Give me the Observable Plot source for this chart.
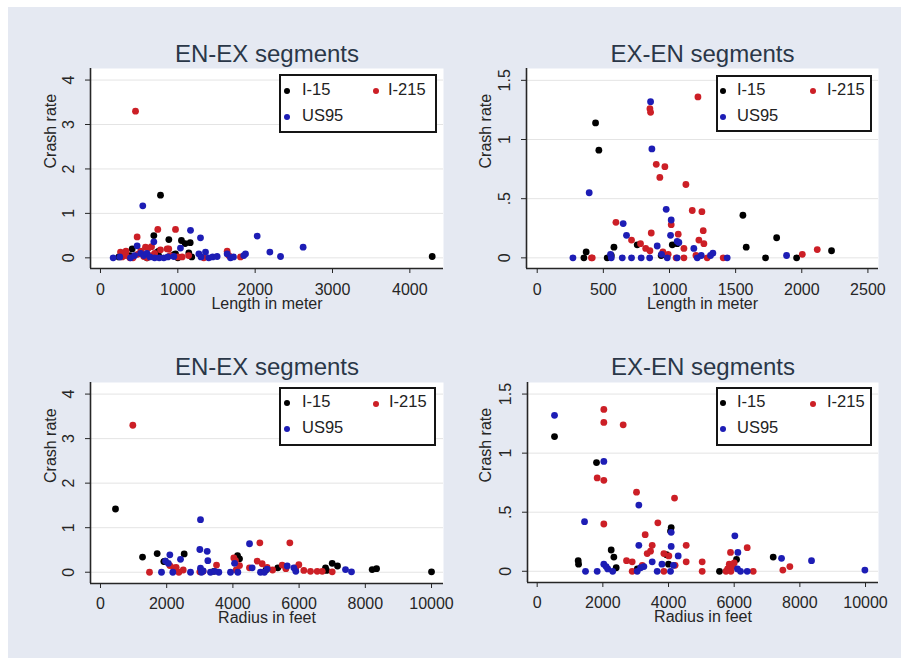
<!DOCTYPE html>
<html><head><meta charset="utf-8">
<script src="https://cdn.jsdelivr.net/npm/d3@7"></script>
<script src="https://cdn.jsdelivr.net/npm/@observablehq/plot@0.6"></script>
<style>
body{margin:0;background:#fff;}
#page{position:relative;width:901px;height:658px;overflow:hidden;font-family:"Liberation Sans",Arial,sans-serif;}
#bg{position:absolute;left:8px;top:7px;width:893px;height:651px;background:#e5e9f2;}
.panel{position:absolute;}
.legend{position:absolute;background:#fff;border:2px solid #151515;box-sizing:border-box;}
.legend .m{position:absolute;width:6px;height:6px;border-radius:50%;margin:-3px 0 0 -3px;}
.legend .t{position:absolute;font-size:16.5px;color:#222;line-height:1;transform:translateY(-50%);white-space:nowrap;}
</style></head><body><div id="page"><div id="bg"></div></div>
<script>
// ---------- data ----------
const series = ["I-15", "I-215", "US95"];
const seriesColors = ["#000000", "#cc1f26", "#1d1db5"];

const lengthTicks = [0, 1000, 2000, 3000, 4000];
const lengthTicks2 = [0, 500, 1000, 1500, 2000, 2500];
const radiusTicks = [0, 2000, 4000, 6000, 8000, 10000];
const rateTicks4 = [0, 1, 2, 3, 4];
const rateTicks15 = [0, 0.5, 1, 1.5];

// EN-EX, length in meter vs crash rate
const enexLenI15 = [[776,1.41],[690,0.50],[884,0.41],[1047,0.39],[1095,0.32],[1160,0.34],[410,0.20],[4289,0.03],
  [237,0.02],[380,0.05],[600,0.0],[730,0.12],[754,0.15],[760,0.02],[950,0.07],[970,0.09],[1000,0.0],[1142,0.11],[1180,0.02]];
const enexLenI215 = [[453,3.30],[741,0.64],[970,0.64],[474,0.47],[582,0.24],[620,0.22],[660,0.25],[883,0.20],
  [259,0.13],[280,0.02],[300,0.10],[330,0.05],[330,0.15],[380,0.0],[420,0.0],[480,0.08],[520,0.15],[560,0.03],[603,0.0],
  [650,0.05],[700,0.10],[776,0.18],[862,0.20],[900,0.05],[1000,0.02],[1056,0.02],[1140,0.05],[1336,0.0],[1638,0.15],
  [1660,0.05],[1810,0.02]];
const enexLenUS95 = [[547,1.17],[1164,0.62],[1293,0.45],[2026,0.49],[690,0.36],[474,0.27],[1034,0.22],[2190,0.13],
  [2620,0.24],[2328,0.03],[164,0],[250,0.02],[388,0],[440,0.05],[520,0.10],[560,0.05],[600,0.10],[640,0.02],[700,0],
  [760,0],[819,0],[870,0.02],[948,0.03],[1272,0.09],[1300,0.02],[1358,0.13],[1400,0],[1450,0.02],[1508,0.03],
  [1638,0.09],[1681,0],[1720,0.02],[1853,0.05],[1875,0.09]];

// EX-EN, length in meter vs crash rate
const exenLenI15 = [[441,1.14],[466,0.91],[1555,0.36],[1810,0.17],[1580,0.09],[2225,0.06],[1726,0],[1961,0],
  [580,0.09],[370,0.05],[353,0],[529,0],[560,0.02],[756,0.11],[937,0.02],[1021,0.11],[1058,0.12]];
const exenLenI215 = [[1215,1.36],[852,1.26],[857,1.23],[900,0.79],[965,0.77],[927,0.68],[1124,0.62],[1172,0.40],
  [1245,0.39],[595,0.30],[862,0.21],[1013,0.28],[1255,0.23],[1066,0.20],[713,0.15],[781,0.12],[820,0.08],[852,0.06],
  [1222,0.15],[1260,0.12],[1109,0.08],[2117,0.07],[2004,0.03],[416,0],[410,0],[1406,0],[1285,0],[1109,0],[990,0.03],
  [1050,0.0],[1200,0.02],[950,0.05]];
const exenLenUS95 = [[857,1.32],[867,0.92],[393,0.55],[975,0.41],[1013,0.32],[650,0.29],[675,0.19],[1008,0.19],
  [1058,0.14],[1071,0.13],[907,0.10],[1184,0.08],[1328,0.04],[1885,0.02],[270,0],[554,0.03],[560,0],[643,0],[713,0],
  [786,0],[850,0],[940,0.03],[983,0],[1058,0],[1210,0],[1240,0.02],[1310,0.02],[1436,0]];

// EN-EX, radius in feet vs crash rate
const enexRadI15 = [[453,1.42],[1270,0.34],[1712,0.42],[2528,0.41],[1913,0.24],[1950,0.25],[4140,0.37],[4200,0.30],
  [10000,0.01],[8207,0.06],[8340,0.08],[7000,0.20],[7160,0.14],[6798,0.10],[6828,0.04],[5357,0.10],[3424,0.02],[5000,0.05]];
const enexRadI215 = [[977,3.30],[4814,0.66],[5720,0.66],[4028,0.32],[4078,0.26],[4733,0.25],[4884,0.19],[5488,0.16],
  [5992,0.17],[3505,0.16],[2095,0.15],[2286,0.11],[1480,0],[2367,0],[2215,0.10],[3100,0.02],[4100,0.05],[4200,0.15],
  [5035,0.11],[5200,0.05],[5600,0.08],[6143,0.04],[6344,0.02],[6546,0.02],[6700,0.02],[7000,0.01],[5900,0.10],
  [2500,0.05],[3000,0.01],[4500,0.10]];
const enexRadUS95 = [[3021,1.18],[4502,0.64],[3001,0.51],[3223,0.47],[2095,0.39],[3243,0.26],[2417,0.29],[1964,0.25],
  [4582,0.10],[5640,0.14],[5841,0.10],[7402,0.06],[7583,0.01],[1843,0],[2185,0],[2719,0],[3021,0.09],[3050,0],
  [3323,0],[3575,0],[3927,0],[4149,0],[4834,0],[5035,0.07],[4950,0],[5900,0.02],[4050,0.20],[2050,0.20],
  [3100,0.03],[3450,0.02]];

// EX-EN, radius in feet vs crash rate
const exenRadI15 = [[528,1.14],[1807,0.92],[7188,0.12],[6071,0.10],[4081,0.37],[4061,0.34],[2254,0.18],[2335,0.12],
  [2406,0.03],[1249,0.09],[1260,0.06],[5553,0],[3939,0.14],[4000,0.06],[3050,0.02]];
const exenRadI215 = [[2030,1.37],[2030,1.26],[2619,1.24],[1827,0.79],[2030,0.77],[3025,0.67],[4183,0.62],[2030,0.40],
  [3675,0.41],[3289,0.31],[3503,0.22],[4538,0.22],[6396,0.20],[5888,0.16],[2721,0.09],[2893,0.08],[3350,0.15],
  [3452,0.17],[3858,0.15],[4010,0.13],[4538,0.08],[5025,0.08],[2893,0],[3858,0],[5025,0],[5800,0.02],[5850,0.06],
  [5900,0.0],[5950,0.04],[6000,0.07],[5750,0.0],[6579,0],[7482,0.01],[7695,0.04],[3200,0.05],[4200,0.05]];
const exenRadUS95 = [[528,1.32],[2030,0.93],[3096,0.56],[1442,0.42],[6020,0.30],[4081,0.33],[3096,0.22],[4081,0.21],
  [6112,0.16],[7442,0.11],[8355,0.09],[9980,0.01],[4294,0.13],[3503,0.08],[2030,0.06],[1472,0],[1827,0],[2150,0.02],
  [2100,0.04],[2300,0],[3046,0],[3150,0.03],[3249,0.04],[3655,0],[3800,0.06],[4061,0],[4150,0.05],[6193,0],
  [6396,0],[6100,0.02]];

// ---------- drawing ----------
const fmtRate = d => d === 0 ? "0" : String(d).replace(/^0\./, ".");
const page = document.getElementById("page");

function makeTable(groups) {
  const rows = [];
  groups.forEach((g, i) => g.forEach(([x, y]) => rows.push({x, y, s: series[i]})));
  return rows;
}

function panel(cfg) {
  const data = makeTable(cfg.groups);
  const svg = Plot.plot({
    width: cfg.width, height: cfg.height,
    marginTop: cfg.mt, marginRight: cfg.mr, marginBottom: cfg.mb, marginLeft: cfg.ml,
    style: {fontFamily: "'Liberation Sans', Arial, sans-serif", background: "none", overflow: "visible", color: "#262626"},
    x: {domain: cfg.xDomain},
    y: {domain: cfg.yDomain},
    color: {domain: series, range: seriesColors},
    marks: [
      Plot.frame({fill: "white", stroke: "none"}),
      Plot.gridY(cfg.yTicks, {stroke: "#e4e4e4", strokeOpacity: 1, strokeWidth: 1}),
      Plot.ruleX([cfg.xDomain[0]], {stroke: "#262626", strokeWidth: 1.6}),
      Plot.ruleY([cfg.yDomain[0]], {stroke: "#262626", strokeWidth: 1.6}),
      Plot.axisY(cfg.yTicks, {tickSize: 5, tickPadding: 17, tickRotate: -90, textAnchor: "middle", lineAnchor: "middle",
        fontSize: 16, tickFormat: cfg.yFormat, label: null}),
      Plot.axisX(cfg.xTicks, {tickSize: 5, tickPadding: cfg.xPad, fontSize: 16, tickFormat: d => String(d), label: null}),
      Plot.dot(data, {x: "x", y: "y", fill: "s", r: 3.4, stroke: "none"}),
      Plot.text([cfg.title], {text: d => d, frameAnchor: "top", dy: cfg.titleDy, lineAnchor: "bottom", fontSize: 24, fill: "#2a3748"}),
      Plot.text([cfg.xLabel], {text: d => d, frameAnchor: "bottom", dy: cfg.xLabelDy, lineAnchor: "bottom", fontSize: 16, fill: "#262626"}),
      Plot.text(["Crash rate"], {text: d => d, frameAnchor: "left", dx: cfg.yLabelDx, rotate: -90, lineAnchor: "middle", fontSize: 16, fill: "#262626"})
    ]
  });
  const wrap = document.createElement("div");
  wrap.className = "panel";
  wrap.style.left = cfg.left + "px";
  wrap.style.top = cfg.top + "px";
  wrap.appendChild(svg);
  page.appendChild(wrap);

  const L = cfg.legend;
  const box = document.createElement("div");
  box.className = "legend";
  Object.assign(box.style, {left: L.x + "px", top: L.y + "px", width: L.w + "px", height: L.h + "px"});
  series.forEach((name, i) => {
    const m = document.createElement("div");
    m.className = "m";
    m.style.background = seriesColors[i];
    m.style.left = (L.marks[i][0] - 2) + "px";
    m.style.top = (L.marks[i][1] - 2) + "px";
    box.appendChild(m);
    const t = document.createElement("div");
    t.className = "t";
    t.textContent = name;
    t.style.left = (L.texts[i][0] - 2) + "px";
    t.style.top = (L.texts[i][1] - 2) + "px";
    box.appendChild(t);
  });
  page.appendChild(box);
}

panel({left: 0, top: 0, width: 450, height: 330, mt: 68, mr: 7, mb: 62, ml: 90,
  xDomain: [-129, 4435], yDomain: [-0.24, 4.26], xTicks: lengthTicks, yTicks: rateTicks4, yFormat: fmtRate,
  title: "EN-EX segments", titleDy: -6.5, xLabel: "Length in meter", xLabelDy: 40.5, xPad: 10, yLabelDx: -40,
  groups: [enexLenI15, enexLenI215, enexLenUS95],
  legend: {x: 279, y: 74, w: 158, h: 59, marks: [[8,17],[97,17],[8,43]], texts: [[23,14.5],[109,14.5],[23,41]]}});

panel({left: 450, top: 0, width: 451, height: 330, mt: 68, mr: 23, mb: 62, ml: 76,
  xDomain: [-81, 2580], yDomain: [-0.09, 1.60], xTicks: lengthTicks2, yTicks: rateTicks15, yFormat: fmtRate,
  title: "EX-EN segments", titleDy: -6.5, xLabel: "Length in meter", xLabelDy: 40.5, xPad: 10, yLabelDx: -41,
  groups: [exenLenI15, exenLenI215, exenLenUS95],
  legend: {x: 716, y: 75, w: 156, h: 57, marks: [[7,16],[97,16],[7,42]], texts: [[21,13.5],[111,13.5],[21,40]]}});

panel({left: 0, top: 330, width: 450, height: 328, mt: 52, mr: 7, mb: 75, ml: 90,
  xDomain: [-302, 10362], yDomain: [-0.253, 4.26], xTicks: radiusTicks, yTicks: rateTicks4, yFormat: fmtRate,
  title: "EN-EX segments", titleDy: -7.5, xLabel: "Radius in feet", xLabelDy: 39.5, xPad: 9, yLabelDx: -40,
  groups: [enexRadI15, enexRadI215, enexRadUS95],
  legend: {x: 279, y: 387, w: 157, h: 59, marks: [[8,16],[97,17],[8,42]], texts: [[23,14.4],[110,14.4],[23,40]]}});

panel({left: 450, top: 330, width: 451, height: 328, mt: 52, mr: 23, mb: 76, ml: 77,
  xDomain: [-295, 10395], yDomain: [-0.095, 1.598], xTicks: radiusTicks, yTicks: rateTicks15, yFormat: fmtRate,
  title: "EX-EN segments", titleDy: -7.5, xLabel: "Radius in feet", xLabelDy: 39.5, xPad: 9, yLabelDx: -42,
  groups: [exenRadI15, exenRadI215, exenRadUS95],
  legend: {x: 716, y: 387, w: 156, h: 59, marks: [[7,16],[97,17],[7,42]], texts: [[21,14.4],[111,14.4],[21,40]]}});
</script>
</body></html>
